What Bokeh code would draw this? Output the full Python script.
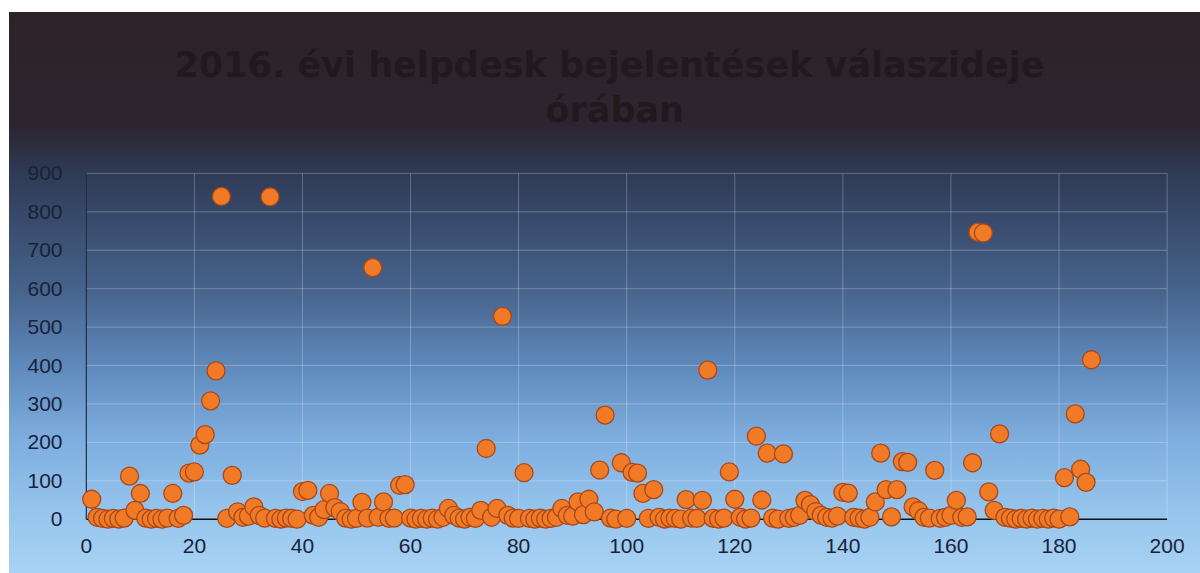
from bokeh.plotting import figure
from bokeh.models import Range1d, FixedTicker, Title
from bokeh.embed import file_html
from bokeh.resources import INLINE

# ticket index (x) and response time in hours (y)
ticket = list(range(1, 187))
hours = [
    52, 5, 2, 0, 2, 0, 3, 112, 23, 67,          # 1-10
    3, 0, 2, 0, 3, 67, 2, 10, 120, 123,          # 11-20
    193, 220, 308, 386, 840, 2, 114, 19, 5, 8,   # 21-30
    32, 10, 3, 839, 2, 0, 3, 2, 0, 72,           # 31-40
    75, 10, 5, 25, 67, 30, 20, 3, 0, 2,          # 41-50
    44, 3, 655, 5, 45, 2, 3, 88, 90, 3,          # 51-60
    0, 2, 0, 3, 0, 5, 28, 10, 3, 0,              # 61-70
    5, 2, 23, 184, 5, 28, 528, 10, 3, 2,         # 71-80
    121, 2, 0, 3, 0, 2, 5, 28, 10, 8,            # 81-90
    45, 12, 52, 19, 128, 271, 3, 0, 147, 2,      # 91-100
    122, 120, 67, 2, 77, 5, 0, 3, 2, 0,          # 101-110
    51, 3, 2, 49, 388, 2, 0, 3, 123, 52,         # 111-120
    5, 0, 3, 216, 50, 172, 3, 0, 170, 2,         # 121-130
    5, 10, 49, 38, 20, 10, 5, 3, 8, 70,          # 131-140
    68, 5, 3, 0, 5, 45, 172, 77, 6, 77,          # 141-150
    150, 148, 32, 22, 5, 3, 127, 2, 5, 10,       # 151-160
    49, 5, 6, 147, 747, 745, 71, 23, 222, 5,     # 161-170
    3, 0, 2, 0, 3, 0, 2, 0, 3, 0,                # 171-180
    108, 6, 274, 130, 96, 415,                   # 181-186
]

x_ticks = [0, 20, 40, 60, 80, 100, 120, 140, 160, 180, 200]
y_ticks = [0, 100, 200, 300, 400, 500, 600, 700, 800, 900]
X_MIN, X_MAX = 0, 200
Y_MIN, Y_MAX = 0, 900

title_lines = ["2016. évi helpdesk bejelentések válaszideje", "órában"]

p = figure(
    width=1200, height=573,
    output_backend="svg", toolbar_location=None,
    x_range=Range1d(-2, 201), y_range=Range1d(-45, 905),
    min_border_left=75, min_border_right=28,
    min_border_top=171, min_border_bottom=37,
)

p.styles = {
    "background": (
        "linear-gradient(to right, #ffffff 0px, #ffffff 9px, transparent 9px), "
        "linear-gradient(to bottom, #ffffff 0px, #ffffff 12px, "
        "#2d2227 12px, #2c2530 125px, #2f3a55 172px, #46638c 290px, "
        "#5f89bb 365px, #7eaedf 440px, #98c7ee 520px, #a8d2f3 573px)"
    )
}
p.background_fill_alpha = 0
p.border_fill_alpha = 0
p.outline_line_alpha = 0


def style_title(t, offset):
    t.align = "left"
    t.offset = offset
    t.text_font = "DejaVu Sans"
    t.text_font_size = "35px"
    t.text_font_style = "bold"
    t.text_color = "#22191e"
    t.standoff = 3


# items in p.above: first added sits next to the frame; p.title is outermost
spacer = Title(text=" ", text_font_size="1px", standoff=37)
p.add_layout(spacer, "above")
second = Title(text=title_lines[1])
style_title(second, 470)
p.add_layout(second, "above")
p.title.text = title_lines[0]
style_title(p.title, 99)

p.grid.visible = False

# gridlines
nx = len(x_ticks)
ny = len(y_ticks)
p.segment(x0=x_ticks, y0=[Y_MIN] * nx, x1=x_ticks, y1=[Y_MAX] * nx,
          line_color="white", line_alpha=0.25, line_width=1)
p.segment(x0=[X_MIN] * ny, y0=y_ticks, x1=[X_MAX] * ny, y1=y_ticks,
          line_color="white", line_alpha=0.25, line_width=1)

# axis lines
p.segment(x0=[X_MIN], y0=[Y_MIN], x1=[X_MIN], y1=[Y_MAX],
          line_color="#1c2840", line_width=1.2)
p.segment(x0=[X_MIN], y0=[Y_MIN], x1=[X_MAX], y1=[Y_MIN],
          line_color="#111111", line_width=1.5)

# data
p.scatter(ticket, hours, size=18, fill_color="#f07a26",
          line_color="#a9481a", line_width=1.3)

for ax, ticks in ((p.xaxis, x_ticks), (p.yaxis, y_ticks)):
    ax.ticker = FixedTicker(ticks=ticks)
    ax.axis_line_alpha = 0
    ax.major_tick_line_alpha = 0
    ax.minor_tick_line_alpha = 0
    ax.major_tick_out = 0
    ax.major_tick_in = 0
    ax.major_label_text_font = "Liberation Sans"
    ax.major_label_text_font_size = "21px"
    ax.major_label_text_color = "#18223a"

p.xaxis.major_label_standoff = 2
p.yaxis.major_label_standoff = 13

open("out.html", "w").write(file_html(p, INLINE))
